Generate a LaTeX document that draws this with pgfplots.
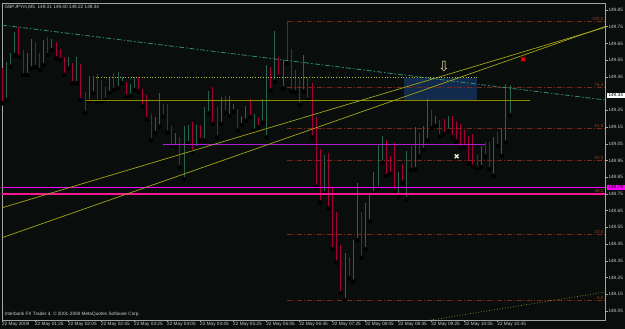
\documentclass[border=0pt]{standalone}
\usepackage{pgfplots}
\pgfplotsset{compat=1.18}
\usepackage{pgfplotstable}
\usepackage{fontspec}
\setmainfont{Liberation Sans}
\newfontfamily\sym{DejaVu Sans}
\definecolor{bg}{RGB}{9,13,11}
\definecolor{framec}{RGB}{165,165,165}
\definecolor{labc}{RGB}{205,205,205}
\definecolor{upc}{RGB}{40,100,76}
\definecolor{dnc}{RGB}{165,0,55}
\definecolor{fibc}{RGB}{125,40,20}
\definecolor{fibt}{RGB}{150,65,25}
\definecolor{tealc}{RGB}{50,140,120}
\definecolor{yelc}{RGB}{165,165,25}
\definecolor{olivec}{RGB}{140,140,0}
\definecolor{dotyc}{RGB}{185,185,60}
\definecolor{purpc}{RGB}{175,30,215}
\definecolor{magc}{RGB}{255,0,255}
\definecolor{pinkc}{RGB}{255,20,147}
\definecolor{boxc}{RGB}{18,42,75}
\definecolor{arrc}{RGB}{230,210,170}

\pgfplotstableread{
i lo hi
1 149.312 149.541
2 149.511 149.591
3 149.581 149.720
6 149.461 149.591
7 149.501 149.675
10 149.521 149.671
12 149.611 149.675
16 149.501 149.571
18 149.411 149.571
21 149.302 149.455
22 149.352 149.455
26 149.352 149.451
28 149.381 149.481
29 149.411 149.451
31 149.336 149.407
32 149.372 149.451
37 149.116 149.212
38 149.152 149.356
42 149.029 149.116
44 148.837 149.156
45 149.053 149.162
47 149.023 149.162
49 149.069 149.268
50 149.232 149.366
53 149.168 149.332
55 149.216 149.336
56 149.242 149.288
58 149.162 149.216
59 149.188 149.276
61 149.128 149.228
63 149.176 149.316
64 149.088 149.521
66 149.421 149.726
68 149.381 149.551
73 149.362 149.581
78 148.754 148.983
83 148.116 148.395
85 148.225 148.474
86 148.474 148.813
88 148.419 148.694
89 148.584 148.754
90 148.754 148.883
91 148.783 149.043
92 148.937 149.096
96 148.730 148.883
98 148.718 149.009
100 148.897 149.148
102 149.013 149.156
103 149.069 149.322
105 149.156 149.216
108 149.128 149.216
116 148.909 149.037
119 148.857 149.092
121 148.977 149.142
122 149.057 149.407
123 149.220 149.400
}\upbars

\pgfplotstableread{
i lo hi
0 149.292 149.501
4 149.571 149.750
5 149.461 149.611
8 149.507 149.661
9 149.491 149.591
11 149.581 149.687
13 149.561 149.661
14 149.551 149.615
15 149.461 149.571
17 149.411 149.531
19 149.312 149.527
20 149.236 149.362
23 149.302 149.465
24 149.302 149.431
25 149.312 149.391
27 149.372 149.471
30 149.332 149.421
33 149.362 149.447
34 149.272 149.376
35 149.196 149.342
36 149.072 149.228
39 149.212 149.288
40 149.116 149.288
41 149.037 149.156
43 148.909 149.092
46 149.003 149.182
48 149.072 149.162
51 149.168 149.387
52 149.088 149.272
54 149.236 149.336
57 149.128 149.256
60 149.208 149.316
62 149.148 149.208
65 149.368 149.507
67 149.451 149.571
69 149.531 149.780
70 149.362 149.615
71 149.356 149.491
72 149.282 149.451
74 149.312 149.451
75 149.088 149.411
76 148.793 149.208
77 148.698 149.017
79 148.664 148.993
80 148.419 148.783
81 148.339 148.644
82 148.155 148.444
84 148.245 148.375
87 148.365 148.644
93 148.857 149.072
94 148.869 148.977
95 148.763 149.057
97 148.817 148.929
99 148.893 149.037
101 148.973 149.116
104 149.142 149.252
106 149.096 149.192
107 149.108 149.196
109 149.088 149.216
110 149.063 149.188
111 149.023 149.168
112 149.029 149.132
113 148.933 149.096
114 148.913 149.108
115 148.903 148.983
117 148.973 149.063
118 148.897 149.063
120 149.037 149.122
}\dnbars

\newcommand{\tf}{\fontsize{4.7}{5.2}\selectfont}

\begin{document}
\begin{tikzpicture}
\fill[bg] (0pt,0pt) rectangle (625pt,329pt);
\useasboundingbox (0pt,0pt) rectangle (625pt,329pt);
\begin{axis}[
  at={(2pt,9pt)}, anchor=south west,
  width=603pt, height=317pt, scale only axis,
  xmin=-0.1, xmax=146, ymin=147.996, ymax=149.892,
  clip mode=individual,
  axis line style={draw=framec, line width=0.7pt},
  tick align=outside, major tick length=2.5pt,
  tick style={draw=framec, line width=0.5pt},
  xtick pos=bottom, ytick pos=right, yticklabel pos=right,
  xtick={0,8,16,24,32,40,48,56,64,72,80,88,96,104,112,120},
  xticklabels={22 May 2009,22 May 01:25,22 May 02:05,22 May 02:45,22 May 03:25,22 May 04:05,22 May 04:45,22 May 05:25,22 May 06:05,22 May 06:45,22 May 07:25,22 May 08:05,22 May 08:45,22 May 09:25,22 May 10:05,22 May 10:45},
  xticklabel style={anchor=north west, font=\tf, text=labc, inner sep=0.5pt, xshift=-1pt, yshift=0.5pt},
  ytick={148.05,148.15,148.25,148.35,148.45,148.55,148.65,148.75,148.85,148.95,149.05,149.15,149.25,149.45,149.55,149.65,149.75,149.85},
  yticklabel style={font=\tf, text=labc, inner sep=0.8pt, /pgf/number format/.cd, fixed, fixed zerofill, precision=2, assume math mode=true},
]
% blue zone
\addplot[draw=none, fill=boxc] coordinates {(97.2,149.312) (115.1,149.312) (115.1,149.441) (97.2,149.441)} --cycle;
% fibonacci levels
\addplot[fibc, line width=0.7pt, dash pattern=on 5pt off 2pt on 1pt off 2pt] coordinates {(69,149.780) (146,149.780)};
\addplot[fibc, line width=0.7pt, dash pattern=on 5pt off 2pt on 1pt off 2pt] coordinates {(69,149.387) (146,149.387)};
\addplot[fibc, line width=0.7pt, dash pattern=on 5pt off 2pt on 1pt off 2pt] coordinates {(69,149.144) (146,149.144)};
\addplot[fibc, line width=0.7pt, dash pattern=on 5pt off 2pt on 1pt off 2pt] coordinates {(69,148.948) (146,148.948)};
\addplot[fibc, line width=0.7pt, dash pattern=on 5pt off 2pt on 1pt off 2pt] coordinates {(69,148.752) (146,148.752)};
\addplot[fibc, line width=0.7pt, dash pattern=on 5pt off 2pt on 1pt off 2pt] coordinates {(69,148.509) (146,148.509)};
\addplot[fibc, line width=0.7pt, dash pattern=on 5pt off 2pt on 1pt off 2pt] coordinates {(69,148.116) (146,148.116)};
% bars
\addplot[only marks, mark=none, error bars/.cd, y dir=plus, y explicit, error mark=none, error bar style={draw=upc, line width=0.9pt}]
  table[x=i, y=lo, y error plus expr=\thisrow{hi}-\thisrow{lo}] {\upbars};
\addplot[only marks, mark=none, error bars/.cd, y dir=plus, y explicit, error mark=none, error bar style={draw=dnc, line width=0.9pt}]
  table[x=i, y=lo, y error plus expr=\thisrow{hi}-\thisrow{lo}] {\dnbars};
% horizontal objects
\addplot[dotyc, line width=0.7pt, dotted] coordinates {(22.6,149.447) (115.1,149.447)};
\addplot[olivec, line width=0.9pt] coordinates {(20.2,149.312) (127.9,149.312)};
\addplot[purpc, line width=0.9pt] coordinates {(39,149.047) (117,149.047)};
\addplot[magc, line width=1.4pt] coordinates {(-0.1,148.790) (146,148.790)};
\addplot[pinkc, line width=1.4pt] coordinates {(-0.1,148.750) (146,148.750)};
% trend lines
\addplot[tealc, line width=0.8pt, dash pattern=on 5pt off 2pt on 1.5pt off 2pt] coordinates {(-0.1,149.760) (146,149.312)};
\addplot[yelc, line width=0.7pt] coordinates {(0,148.668) (146,149.746)};
\addplot[yelc, line width=0.7pt] coordinates {(0,148.489) (146,149.751)};
\addplot[yelc, line width=0.7pt, dotted] coordinates {(103.7,147.996) (146,148.163)};
% fib labels
\node[anchor=south east, font=\fontsize{4.5}{5}\selectfont, text=fibt, inner sep=0.6pt] at (axis cs:145.8,149.780) {100.0};
\node[anchor=south east, font=\fontsize{4.5}{5}\selectfont, text=fibt, inner sep=0.6pt] at (axis cs:145.8,149.387) {76.4};
\node[anchor=south east, font=\fontsize{4.5}{5}\selectfont, text=fibt, inner sep=0.6pt] at (axis cs:145.8,149.144) {61.8};
\node[anchor=south east, font=\fontsize{4.5}{5}\selectfont, text=fibt, inner sep=0.6pt] at (axis cs:145.8,148.948) {50.0};
\node[anchor=south east, font=\fontsize{4.5}{5}\selectfont, text=fibt, inner sep=0.6pt] at (axis cs:145.8,148.752) {38.2};
\node[anchor=south east, font=\fontsize{4.5}{5}\selectfont, text=fibt, inner sep=0.6pt] at (axis cs:145.8,148.509) {23.6};
\node[anchor=south east, font=\fontsize{4.5}{5}\selectfont, text=fibt, inner sep=0.6pt] at (axis cs:145.8,148.116) {0.0};
% symbols
\node[text=arrc, font=\sym\fontsize{14}{14}\selectfont, inner sep=0pt] at (axis cs:107.0,149.509) {⇩};
\node[text=red, font=\sym\fontsize{7.5}{7.5}\selectfont, inner sep=0pt] at (axis cs:126.2,149.551) {✖};
\node[text=arrc!60!white, font=\sym\fontsize{7.5}{7.5}\selectfont, inner sep=0pt] at (axis cs:110.1,148.973) {✖};
% texts
\node[anchor=north west, font=\tf, text=labc, inner sep=0.5pt] at ([xshift=2pt,yshift=-1.5pt]rel axis cs:0,1) {GBPJPYm,M5\ \ 149.31 149.40 149.22 149.34};
\node[anchor=south west, font=\tf, text=labc, inner sep=0.5pt] at ([xshift=2pt,yshift=3pt]rel axis cs:0,0) {Interbank FX Trader 4, © 2001-2008 MetaQuotes Software Corp.};
% price labels
\node[anchor=west, fill=white, text=black, font=\tf, inner sep=0.7pt, minimum width=18pt] at ([xshift=1.5pt]axis cs:146,149.34) {149.34};
\node[anchor=west, fill=magc, text=black, font=\tf, inner sep=0.7pt, minimum width=18pt] at ([xshift=1.5pt]axis cs:146,148.79) {148.79};
\end{axis}
\end{tikzpicture}
\end{document}
